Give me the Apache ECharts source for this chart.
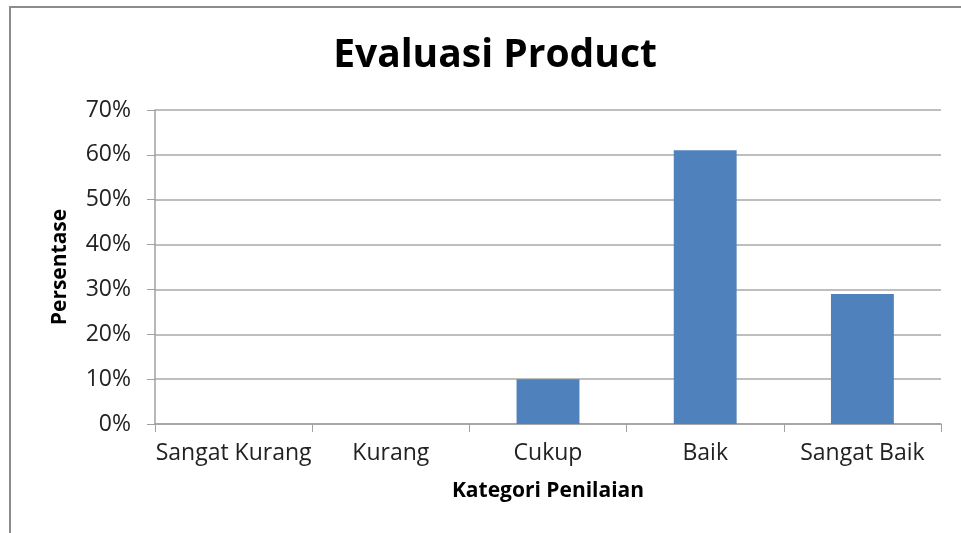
<!DOCTYPE html>
<html>
<head>
<meta charset="utf-8">
<script src="https://cdn.jsdelivr.net/npm/echarts@6/dist/echarts.min.js"></script>
<style>
  html, body { margin: 0; padding: 0; background: #fff; }
  #chart { width: 961px; height: 533px; }
</style>
</head>
<body>
<div id="chart"></div>
<script>
// data
const categories = ['Sangat Kurang', 'Kurang', 'Cukup', 'Baik', 'Sangat Baik']
const percentages = [0, 0, 10, 61, 29]
const yTicks = [0, 10, 20, 30, 40, 50, 60, 70]

const font = '"Open Sans", "DejaVu Sans", sans-serif'
const chart = echarts.init(document.getElementById('chart'))

const option = {
  animation: false,
  graphic: [
    {
      // outer frame (continues past right/bottom edges)
      type: 'rect',
      shape: { x: 10, y: 7, width: 1000, height: 600 },
      style: { fill: 'none', stroke: '#8c8c8c', lineWidth: 2 },
      silent: true
    }
  ],
  title: {
    text: 'Evaluasi Product',
    left: 490,
    top: 31,
    textAlign: 'center',
    textStyle: { fontFamily: font, fontSize: 39, fontWeight: 'bold', color: '#000' }
  },
  grid: { left: 155, right: 20, top: 110, bottom: 109 },
  xAxis: {
    type: 'category',
    data: categories,
    name: 'Kategori Penilaian',
    nameLocation: 'middle',
    nameGap: 57,
    nameTextStyle: { fontFamily: font, fontSize: 21, fontWeight: 'bold', color: '#000' },
    axisLine: { lineStyle: { color: '#a0a0a0', width: 1.5 } },
    axisTick: { show: true, length: 8, lineStyle: { color: '#a0a0a0' } },
    axisLabel: { fontFamily: font, fontSize: 23, color: '#222', margin: 18, interval: 0 }
  },
  yAxis: {
    type: 'value',
    min: 0,
    max: 70,
    interval: 10,
    name: 'Persentase',
    nameLocation: 'middle',
    nameGap: 84,
    nameRotate: 90,
    nameTextStyle: { fontFamily: font, fontSize: 21, fontWeight: 'bold', color: '#000' },
    axisLine: { show: true, lineStyle: { color: '#a0a0a0', width: 1.5 } },
    axisTick: { show: true, length: 8, lineStyle: { color: '#a0a0a0' } },
    axisLabel: {
      fontFamily: font, fontSize: 23, color: '#222', margin: 24,
      formatter: v => (yTicks.includes(v) ? v + '%' : '')
    },
    splitLine: { lineStyle: { color: '#a8a8a8', width: 1.5 } }
  },
  series: [
    {
      type: 'bar',
      data: percentages,
      barWidth: '40%',
      itemStyle: { color: '#4f81bd' }
    }
  ]
}

chart.setOption(option)
</script>
</body>
</html>
